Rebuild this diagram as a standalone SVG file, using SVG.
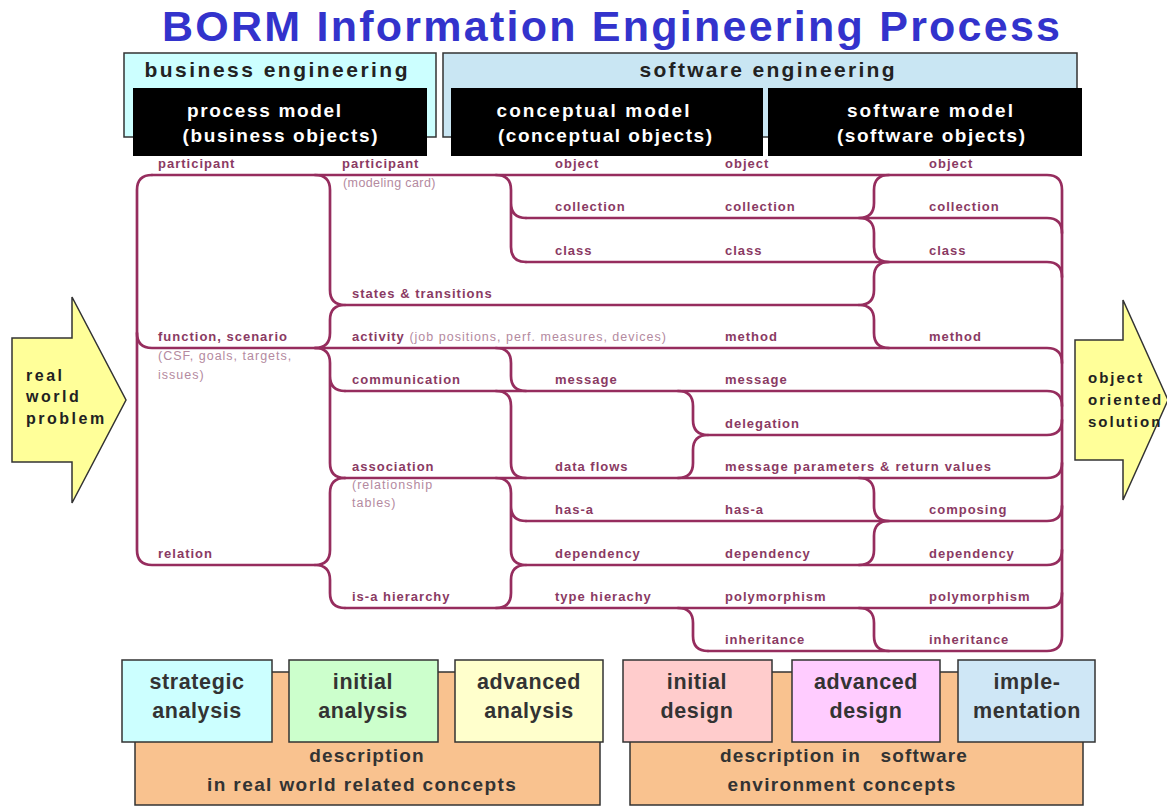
<svg xmlns="http://www.w3.org/2000/svg" width="1167" height="807" viewBox="0 0 1167 807">
<style>
.ln{fill:none;stroke:#962d5e;stroke-width:2.7;stroke-linecap:round;stroke-linejoin:round}
.lb{font-family:"Liberation Sans",Arial,sans-serif;font-size:13px;font-weight:bold;fill:#8a3a63;letter-spacing:1px}
.sub{font-family:"Liberation Sans",Arial,sans-serif;font-size:12.5px;font-weight:normal;fill:#b48aa0;letter-spacing:1px}
.hd{font-family:"Liberation Sans",Arial,sans-serif;font-size:21px;font-weight:bold;fill:#222}
.bk{font-family:"Liberation Sans",Arial,sans-serif;font-size:19px;font-weight:bold;fill:#fff}
.bx{stroke:#333;stroke-width:1.5}
.big{font-family:"Liberation Sans",Arial,sans-serif;font-size:21.5px;font-weight:bold;fill:#333;letter-spacing:0.6px}
.desc{font-family:"Liberation Sans",Arial,sans-serif;font-size:19px;font-weight:bold;fill:#333;letter-spacing:1.2px}
.arr{fill:#ffff99;stroke:#333;stroke-width:1.5}
.at{font-family:"Liberation Sans",Arial,sans-serif;font-size:16px;font-weight:bold;fill:#222;letter-spacing:2.5px}
</style>
<rect width="1167" height="807" fill="#fff"/>

<g id="title"><text x="611" y="41" text-anchor="middle" textLength="898" lengthAdjust="spacing" style="font-family:'Liberation Sans',Arial,sans-serif;font-size:43px;font-weight:bold;fill:#3333cc">BORM Information Engineering Process</text></g>

<g id="hdr-business"><rect x="124" y="53" width="312" height="84" fill="#ccffff" class="bx"/><text class="hd" x="276" y="77" text-anchor="middle" textLength="263" lengthAdjust="spacing">business engineering</text></g>
<g id="hdr-software"><rect x="443" y="53" width="634" height="84" fill="#c9e6f3" class="bx"/><text class="hd" x="767" y="77" text-anchor="middle" textLength="255" lengthAdjust="spacing">software engineering</text></g>
<g id="hdr-process"><rect x="133" y="88" width="294" height="68" fill="#000"/><text class="bk" x="264" y="117" text-anchor="middle" textLength="154" lengthAdjust="spacing">process model</text><text class="bk" x="280" y="142" text-anchor="middle" textLength="195" lengthAdjust="spacing">(business objects)</text></g>
<g id="hdr-conceptual"><rect x="451" y="88" width="312" height="68" fill="#000"/><text class="bk" x="593" y="117" text-anchor="middle" textLength="193" lengthAdjust="spacing">conceptual model</text><text class="bk" x="605" y="142" text-anchor="middle" textLength="214" lengthAdjust="spacing">(conceptual objects)</text></g>
<g id="hdr-softmodel"><rect x="768" y="88" width="314" height="68" fill="#000"/><text class="bk" x="930" y="117" text-anchor="middle" textLength="166" lengthAdjust="spacing">software model</text><text class="bk" x="931" y="142" text-anchor="middle" textLength="188" lengthAdjust="spacing">(software objects)</text></g>

<g id="arrow-in"><polygon class="arr" points="12,338 72,338 72,297 126,400 72,503 72,462 12,462"/><text class="at" x="26" y="381">real</text><text class="at" x="26" y="402">world</text><text class="at" x="26" y="424">problem</text></g>
<g id="arrow-out"><polygon class="arr" points="1075,340 1123,340 1123,300 1168,400 1123,500 1123,460 1075,460"/><text class="at" x="1088" y="383" style="font-size:15px;letter-spacing:2px">object</text><text class="at" x="1088" y="405" style="font-size:15px;letter-spacing:2px">oriented</text><text class="at" x="1088" y="427" style="font-size:15px;letter-spacing:2px">solution</text></g>

<g id="connectors">
<path class="ln" d="M152 175 Q137 175 137 190 L137 550 Q137 565 152 565 L315 565"/>
<path class="ln" d="M152 175 L1047 175 Q1062 175 1062 190 L1062 636 Q1062 651 1047 651 L708 651"/>
<path class="ln" d="M137 333 Q137 348 152 348 L1047 348 Q1062 348 1062 363"/>
<path class="ln" d="M526 218 L1047 218 Q1062 218 1062 233"/>
<path class="ln" d="M526 262 L1047 262 Q1062 262 1062 277"/>
<path class="ln" d="M345 305 L859 305"/>
<path class="ln" d="M345 391 L1047 391 Q1062 391 1062 406"/>
<path class="ln" d="M708 435 L1047 435 Q1062 435 1062 420"/>
<path class="ln" d="M345 478 L1047 478 Q1062 478 1062 463"/>
<path class="ln" d="M526 521 L1047 521 Q1062 521 1062 506"/>
<path class="ln" d="M526 565 L1047 565 Q1062 565 1062 550"/>
<path class="ln" d="M345 608 L1047 608 Q1062 608 1062 593"/>
<path class="ln" d="M315 175 Q330 175 330 190 L330 290 Q330 305 345 305 Q330 305 330 320 L330 333 Q330 348 315 348"/>
<path class="ln" d="M315 348 Q330 348 330 363 L330 463 Q330 478 345 478 M330 376 Q330 391 345 391"/>
<path class="ln" d="M345 478 Q330 478 330 493 L330 550 Q330 565 315 565 Q330 565 330 580 L330 593 Q330 608 345 608"/>
<path class="ln" d="M496 175 Q511 175 511 190 L511 247 Q511 262 526 262 M511 203 Q511 218 526 218"/>
<path class="ln" d="M496 348 Q511 348 511 363 L511 376 Q511 391 526 391"/>
<path class="ln" d="M496 391 Q511 391 511 406 L511 463 Q511 478 526 478"/>
<path class="ln" d="M496 478 Q511 478 511 493 L511 550 Q511 565 526 565 Q511 565 511 580 L511 593 Q511 608 496 608 M511 506 Q511 521 526 521"/>
<path class="ln" d="M678 391 Q693 391 693 406 L693 420 Q693 435 708 435 Q693 435 693 450 L693 463 Q693 478 678 478"/>
<path class="ln" d="M678 608 Q693 608 693 623 L693 636 Q693 651 708 651"/>
<path class="ln" d="M889 175 Q874 175 874 190 L874 203 Q874 218 859 218 Q874 218 874 233 L874 247 Q874 262 889 262 Q874 262 874 277 L874 290 Q874 305 859 305 Q874 305 874 320 L874 333 Q874 348 889 348"/>
<path class="ln" d="M859 478 Q874 478 874 493 L874 506 Q874 521 889 521 Q874 521 874 536 L874 550 Q874 565 859 565"/>
<path class="ln" d="M859 608 Q874 608 874 623 L874 636 Q874 651 889 651"/>
</g>

<g id="col1">
<g id="c1-participant"><text class="lb" x="158" y="168">participant</text></g>
<g id="c1-function"><text class="lb" x="158" y="341">function, scenario</text><text class="sub" x="158" y="360">(CSF, goals, targets,</text><text class="sub" x="158" y="379">issues)</text></g>
<g id="c1-relation"><text class="lb" x="158" y="558">relation</text></g>
</g>
<g id="col2">
<g id="c2-participant"><text class="lb" x="342" y="168">participant</text><text class="sub" x="343" y="187" style="letter-spacing:0.4px">(modeling card)</text></g>
<g id="c2-states"><text class="lb" x="352" y="298">states &amp; transitions</text></g>
<g id="c2-activity"><text class="lb" x="352" y="341">activity <tspan class="sub">(job positions, perf. measures, devices)</tspan></text></g>
<g id="c2-communication"><text class="lb" x="352" y="384">communication</text></g>
<g id="c2-association"><text class="lb" x="352" y="471">association</text><text class="sub" x="352" y="489">(relationship</text><text class="sub" x="352" y="507">tables)</text></g>
<g id="c2-isa"><text class="lb" x="352" y="601">is-a hierarchy</text></g>
</g>
<g id="col3">
<g id="c3-object"><text class="lb" x="555" y="168">object</text></g>
<g id="c3-collection"><text class="lb" x="555" y="211">collection</text></g>
<g id="c3-class"><text class="lb" x="555" y="255">class</text></g>
<g id="c3-message"><text class="lb" x="555" y="384">message</text></g>
<g id="c3-dataflows"><text class="lb" x="555" y="471">data flows</text></g>
<g id="c3-hasa"><text class="lb" x="555" y="514">has-a</text></g>
<g id="c3-dependency"><text class="lb" x="555" y="558">dependency</text></g>
<g id="c3-type"><text class="lb" x="555" y="601">type hierachy</text></g>
</g>
<g id="col4">
<g id="c4-object"><text class="lb" x="725" y="168">object</text></g>
<g id="c4-collection"><text class="lb" x="725" y="211">collection</text></g>
<g id="c4-class"><text class="lb" x="725" y="255">class</text></g>
<g id="c4-method"><text class="lb" x="725" y="341">method</text></g>
<g id="c4-message"><text class="lb" x="725" y="384">message</text></g>
<g id="c4-delegation"><text class="lb" x="725" y="428">delegation</text></g>
<g id="c4-params"><text class="lb" x="725" y="471" textLength="267" lengthAdjust="spacing">message parameters &amp; return values</text></g>
<g id="c4-hasa"><text class="lb" x="725" y="514">has-a</text></g>
<g id="c4-dependency"><text class="lb" x="725" y="558">dependency</text></g>
<g id="c4-poly"><text class="lb" x="725" y="601">polymorphism</text></g>
<g id="c4-inherit"><text class="lb" x="725" y="644">inheritance</text></g>
</g>
<g id="col5">
<g id="c5-object"><text class="lb" x="929" y="168">object</text></g>
<g id="c5-collection"><text class="lb" x="929" y="211">collection</text></g>
<g id="c5-class"><text class="lb" x="929" y="255">class</text></g>
<g id="c5-method"><text class="lb" x="929" y="341">method</text></g>
<g id="c5-composing"><text class="lb" x="929" y="514">composing</text></g>
<g id="c5-dependency"><text class="lb" x="929" y="558">dependency</text></g>
<g id="c5-poly"><text class="lb" x="929" y="601">polymorphism</text></g>
<g id="c5-inherit"><text class="lb" x="929" y="644">inheritance</text></g>
</g>

<g id="desc-real"><rect x="135" y="672" width="465" height="133" fill="#f9c28f" class="bx"/><text class="desc" x="367" y="762" text-anchor="middle">description</text><text class="desc" x="362" y="791" text-anchor="middle" textLength="310" lengthAdjust="spacing">in real world related concepts</text></g>
<g id="desc-soft"><rect x="630" y="672" width="453" height="133" fill="#f9c28f" class="bx"/><text class="desc" x="844" y="762" text-anchor="middle" xml:space="preserve" textLength="248" lengthAdjust="spacing">description in   software</text><text class="desc" x="842" y="791" text-anchor="middle" textLength="229" lengthAdjust="spacing">environment concepts</text></g>
<g id="ph-strategic"><rect x="122" y="660" width="150" height="82" fill="#ccffff" class="bx"/><text class="big" x="197" y="689" text-anchor="middle">strategic</text><text class="big" x="197" y="718" text-anchor="middle">analysis</text></g>
<g id="ph-initial-analysis"><rect x="289" y="660" width="149" height="82" fill="#ccffcc" class="bx"/><text class="big" x="363" y="689" text-anchor="middle">initial</text><text class="big" x="363" y="718" text-anchor="middle">analysis</text></g>
<g id="ph-advanced-analysis"><rect x="455" y="660" width="148" height="82" fill="#ffffcc" class="bx"/><text class="big" x="529" y="689" text-anchor="middle">advanced</text><text class="big" x="529" y="718" text-anchor="middle">analysis</text></g>
<g id="ph-initial-design"><rect x="623" y="660" width="149" height="82" fill="#ffcccc" class="bx"/><text class="big" x="697" y="689" text-anchor="middle">initial</text><text class="big" x="697" y="718" text-anchor="middle">design</text></g>
<g id="ph-advanced-design"><rect x="792" y="660" width="148" height="82" fill="#ffccff" class="bx"/><text class="big" x="866" y="689" text-anchor="middle">advanced</text><text class="big" x="866" y="718" text-anchor="middle">design</text></g>
<g id="ph-implementation"><rect x="958" y="660" width="137" height="82" fill="#cfe7f6" class="bx"/><text class="big" x="1027" y="689" text-anchor="middle">imple-</text><text class="big" x="1027" y="718" text-anchor="middle">mentation</text></g>
</svg>
